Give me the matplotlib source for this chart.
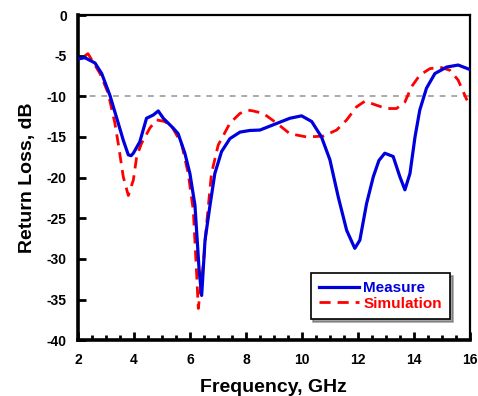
import matplotlib
matplotlib.use("Agg")
import matplotlib.pyplot as plt

plt.rcParams['font.family'] = ['Liberation Sans', 'DejaVu Sans']

meas_f = [2.0, 2.25, 2.61, 2.85, 3.14, 3.44, 3.62, 3.8, 3.9, 3.98, 4.21, 4.45, 4.69, 4.87,
          5.05, 5.4, 5.58, 5.82, 6.0, 6.18, 6.33, 6.42, 6.54, 6.71, 6.89, 7.13, 7.43,
          7.79, 8.14, 8.5, 8.98, 9.57, 9.99, 10.35, 10.7, 11.0, 11.3, 11.6, 11.89,
          12.07, 12.31, 12.55, 12.75, 12.96, 13.26, 13.5, 13.68, 13.86, 14.04, 14.21, 14.45,
          14.75, 15.17, 15.58, 16.0]
meas_db = [-5.4, -5.25, -5.9, -7.2, -9.85, -13.3, -15.4, -17.2, -17.3, -17.0, -15.6, -12.7,
           -12.3, -11.8, -12.7, -13.9, -14.6, -17.0, -19.5, -23.4, -31.4, -34.5, -27.7,
           -23.6, -19.5, -16.8, -15.2, -14.4, -14.2, -14.15, -13.5, -12.7, -12.4, -13.1,
           -15.0, -17.8, -22.4, -26.5, -28.7, -27.7, -23.2, -19.9, -17.9, -17.0, -17.4,
           -19.9, -21.5, -19.5, -15.0, -11.7, -9.0, -7.2, -6.4, -6.15, -6.7]

sim_f = [2.25, 2.36, 2.79, 3.08, 3.32, 3.44, 3.62, 3.8, 3.98, 4.1, 4.27, 4.57, 4.81, 5.1,
         5.35, 5.7, 5.94, 6.12, 6.24, 6.3, 6.48, 6.6, 6.77, 7.01, 7.43, 7.79, 8.08, 8.26,
         8.62, 9.1, 9.57, 10.17, 10.76, 11.24, 11.6, 11.95, 12.25, 12.67, 13.02, 13.38,
         13.68, 13.92, 14.21, 14.57, 14.93, 15.29, 15.58, 15.9]
sim_db = [-5.0, -4.75, -7.2, -9.6, -13.3, -15.8, -19.9, -22.2, -20.3, -17.4, -15.8, -13.9,
          -12.9, -13.1, -13.7, -15.8, -19.5, -24.0, -31.8, -36.1, -30.6, -25.6, -19.5,
          -16.0, -13.3, -12.1, -11.7, -11.8, -12.1, -13.3, -14.6, -15.0, -14.9, -14.15,
          -12.9, -11.3, -10.6, -11.1, -11.5, -11.5, -10.7, -8.8, -7.4, -6.6, -6.4, -6.8,
          -8.0, -10.5]

ref_level = -10
x_ticks = [2, 4, 6, 8, 10, 12, 14, 16]
y_ticks = [0, -5, -10, -15, -20, -25, -30, -35, -40]

fig = plt.figure(figsize=(4.78, 3.96), dpi=100)
ax = fig.add_axes([0.163, 0.141, 0.82, 0.821])

ax.axhline(ref_level, color='#aaaaaa', lw=1.4, ls=(0, (3, 3)), zorder=1)
ax.plot(meas_f, meas_db, color='#0000dd', lw=2.3, label='Measure', zorder=3)
ax.plot(sim_f, sim_db, color='#ff0000', lw=2.0, ls=(0, (4, 2.5)), label='Simulation', zorder=2)

ax.set_xlim(2, 16)
ax.set_ylim(-40, 0)
ax.set_xticks(x_ticks)
ax.set_yticks(y_ticks)
ax.set_xticks([2 + 0.5 * i for i in range(29)], minor=True)
ax.set_xticklabels([str(v) for v in x_ticks], fontweight='bold', fontsize=10)
ax.set_yticklabels([str(v) for v in y_ticks], fontweight='bold', fontsize=10)
ax.tick_params(axis='both', direction='in', which='major', length=6, width=2,
               top=False, right=False)
ax.tick_params(axis='x', which='major', pad=9)
ax.tick_params(axis='y', which='major', pad=8)
ax.tick_params(axis='x', direction='in', which='minor', length=3.5, width=2, top=False)

for s in ['left', 'bottom']:
    ax.spines[s].set_linewidth(2.6)
for s in ['top', 'right']:
    ax.spines[s].set_linewidth(1.6)

ax.set_xlabel('Frequency, GHz', fontweight='bold', fontsize=14, labelpad=9)
ax.set_ylabel('Return Loss, dB', fontweight='bold', fontsize=14, labelpad=8)

leg = ax.legend(loc='lower right', bbox_to_anchor=(0.958, 0.055), frameon=True,
                fancybox=False, shadow=True, handlelength=2.6,
                borderpad=0.55, labelspacing=0.1, handletextpad=0.3, borderaxespad=0.2,
                prop={'weight': 'bold', 'size': 11})
leg.get_frame().set_edgecolor('black')
leg.get_frame().set_linewidth(1.2)
for t, c in zip(leg.get_texts(), ['#0000dd', '#ff0000']):
    t.set_color(c)

fig.savefig('out.png', dpi=100)
